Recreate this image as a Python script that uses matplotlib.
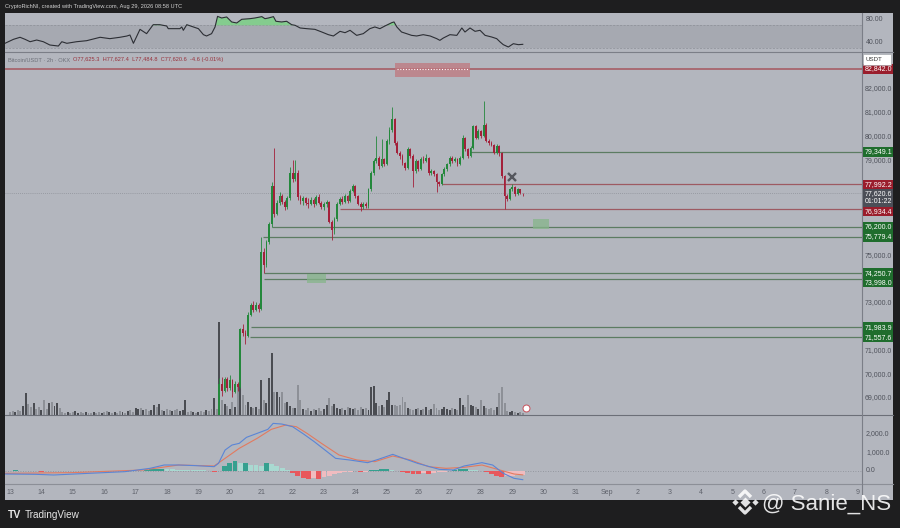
import matplotlib
matplotlib.use("Agg")
import matplotlib.pyplot as plt
import matplotlib.transforms as mtransforms
from matplotlib.patches import Rectangle
from matplotlib.lines import Line2D
import numpy as np

plt.rcParams['font.family'] = ['Liberation Sans', 'DejaVu Sans']

# ======================= DATA =======================
# 2h candles, index 0 = Aug 13 00:00; prices below the panel before index 80
first_candle = 80
first_open = 66900.0
closes = [
    69600, 69300, 69800, 69400, 69750, 69250, 69600, 69450, 71888, 71750,
    71600, 72513, 72930, 72700, 72900, 72750, 75150, 74600, 75570, 76330,
    77930, 76750, 77200, 77500, 77250, 77050, 77400, 78480, 78200, 78450,
    77450, 77300, 77400, 77200, 77150, 77350, 77150, 77450, 77200, 77027,
    77150, 77236, 76400, 76055, 76541, 77166, 77375, 77250, 77500, 77300,
    77720, 77930, 77500, 77166, 77030, 77150, 77080, 77790, 78486, 78972,
    79110, 78760, 79040, 78830, 79805, 80291, 80736, 79736, 79319, 79180,
    78902, 78694, 79486, 79180, 78555, 78972, 78620, 79040, 78970, 79110,
    78486, 78550, 78416, 78069, 78000, 78416, 78625, 78833, 79110, 78972,
    79040, 78833, 79110, 79944, 79458, 79180, 79527, 80430, 79944, 80220,
    80013, 80500, 79805, 79736, 79660, 79319, 79600, 79290, 78347, 77514,
    77375, 77791, 77860, 77580, 77791, 77625.3, 77620.6]
highs = [
    69850, 69900, 69900, 69880, 69950, 69800, 69700, 69680, 71950, 72100,
    71850, 72600, 73000, 73070, 73050, 73000, 75779, 75300, 75650, 76400,
    78100, 79500, 77350, 77650, 77600, 77350, 77500, 78700, 79000, 79013,
    78600, 77550, 77500, 77450, 77400, 77450, 77400, 77550, 77600, 77300,
    77250, 77350, 77300, 76500, 76600, 77250, 77450, 77500, 77600, 77550,
    77800, 78000, 77950, 77550, 77250, 77250, 77250, 77850, 78550, 79050,
    80013, 79200, 79900, 79100, 79900, 80400, 81263, 80800, 79800, 79400,
    79250, 78950, 79550, 79520, 79250, 79050, 79000, 79150, 79200, 79250,
    79150, 78650, 78600, 78450, 78150, 78480, 78700, 78900, 79200, 79180,
    79120, 79080, 79180, 80050, 79990, 79500, 79600, 80500, 80480, 80300,
    80280, 81513, 80550, 79900, 79800, 79700, 79680, 79650, 79349, 78400,
    77600, 77850, 77992, 77900, 77850, 77800, 77627.4]
lows = [
    66800, 69100, 69250, 69300, 69350, 69040, 69200, 69300, 69400, 71600,
    71263, 71557, 72450, 72600, 72650, 72600, 72700, 74250, 74500, 75500,
    76200, 76600, 76700, 77100, 77150, 76900, 76950, 77350, 78100, 78150,
    77350, 77150, 77100, 77100, 77000, 77100, 77050, 77100, 77150, 76950,
    76900, 77050, 76350, 75638, 75900, 76450, 77100, 77150, 77200, 77200,
    77250, 77650, 77400, 77100, 76850, 76950, 76980, 77000, 77700, 78400,
    78900, 78650, 78700, 78750, 78800, 79700, 80200, 79650, 79250, 79050,
    78800, 78600, 78650, 79100, 77888, 78450, 78550, 78580, 78900, 78920,
    78400, 78400, 78350, 77652, 77900, 77950, 78350, 78550, 78780, 78900,
    78920, 78780, 78800, 79050, 79400, 79100, 79150, 79480, 79880, 79900,
    79950, 79980, 79750, 79650, 79600, 79250, 79280, 79200, 78250, 76934,
    77300, 77350, 77700, 77500, 77550, 77600, 77484.8]

# volume of every 2h candle from Aug 13 00:00
volumes = [
    30, 40, 30, 50, 40,
    90, 220, 110, 80, 120, 60, 80, 50, 150, 60, 120, 130, 90, 120, 70,
    30, 20, 30, 20, 30, 40, 20, 30, 20, 30, 20, 20, 30, 20, 30, 20, 30, 40, 30, 20, 30, 20, 40, 30, 20,
    40, 50, 30,
    70, 60, 70, 50, 60,
    40, 50,
    100, 80, 110,
    50, 40, 60, 50, 40, 50, 60, 40, 50,
    150,
    30, 40, 30, 20, 30, 40, 30, 50, 40, 60,
    170, 60,
    930, 150, 110, 90, 60, 130, 80, 280, 280, 200,
    100, 130, 80, 70, 80, 60, 350, 150, 120, 370,
    620, 230, 230, 180, 230, 120, 130, 90, 70, 70,
    300, 150, 60, 50, 70, 40, 60, 50, 70, 40,
    60, 100, 170, 90, 110, 70, 60, 70, 50, 80,
    70, 60, 70, 50, 80, 60, 70, 50, 280, 290,
    120, 90, 100, 80, 150, 230, 100, 100, 90, 100,
    180, 130, 70, 60, 50, 60, 70, 50, 60, 80,
    50, 60, 110, 70, 50, 60, 80, 60, 50, 70,
    60, 50, 170, 100, 80, 200, 100, 90, 80, 60,
    150, 90, 70, 60, 70, 50, 80, 220, 280, 120,
    40, 30, 40, 30, 20, 30, 20]
# up (u) / down (d) shade of the volume bars before the first drawn candle
vol_dir_early = ("ddudd" + "uudduddudduduud" + "ddudduudduddudduddududdud" + "udd"
                 + "uudud" + "du" + "udu" + "duddudduu" + "u" + "ddududdudd" + "ud")

# RSI (day of month, value)
rsi_days = [12.84, 13.11, 13.32, 13.48, 13.64, 13.85, 14.06, 14.27, 14.54, 14.65,
            14.81, 15.12, 15.44, 15.87, 16.18, 16.50, 16.72, 16.82, 16.93, 17.03,
            17.14, 17.35, 17.56, 17.77, 17.99, 18.04, 18.41, 18.47, 18.52, 18.63,
            18.84, 19.00, 19.16, 19.26, 19.42, 19.53, 19.61, 19.74, 19.90, 20.06,
            20.22, 20.38, 20.64, 20.80, 21.02, 21.12, 21.23, 21.39, 21.47, 21.65,
            21.81, 21.97, 22.08, 22.24, 22.45, 22.71, 22.93, 23.14, 23.30, 23.51,
            23.67, 23.83, 24.04, 24.25, 24.46, 24.62, 24.78, 24.94, 25.16, 25.23,
            25.32, 25.47, 25.63, 25.79, 25.95, 26.16, 26.38, 26.59, 26.69, 26.80,
            27.01, 27.23, 27.39, 27.49, 27.65, 27.81, 27.97, 28.13, 28.34, 28.50,
            28.61, 28.71, 28.87, 29.03, 29.19, 29.33]
rsi_vals = [38.3, 45.3, 48.9, 45.3, 41.1, 44.1, 41.1, 35.3, 33.5, 41.1,
            38.3, 41.1, 42.9, 48.9, 46.5, 48.9, 51.1, 52.9, 38.3, 49.9,
            62.9, 55.3, 71.1, 71.1, 68.8, 64.1, 64.1, 67.1, 61.2, 71.1,
            67.1, 64.1, 53.5, 51.2, 55.3, 67.1, 85.8, 82.9, 84.7, 75.9,
            74.1, 80.6, 81.7, 82.9, 85.3, 81.7, 82.9, 85.3, 77.1, 75.9,
            77.1, 71.1, 70.0, 65.3, 64.1, 62.9, 58.2, 53.5, 51.2, 59.4,
            57.0, 61.2, 52.3, 55.3, 64.1, 67.1, 64.1, 68.8, 74.7, 75.9,
            67.1, 58.2, 55.3, 52.3, 51.2, 53.5, 51.2, 46.5, 43.5, 47.6,
            53.5, 52.3, 65.3, 58.2, 65.3, 59.4, 61.2, 52.3, 49.4, 46.5,
            40.6, 35.9, 31.8, 37.6, 35.9, 36.5]

# MACD line and signal line (day of month, value)
macd_days = [12.85, 13.82, 14.39, 15.52, 16.66, 17.46, 17.91, 18.37, 18.94, 19.50,
             19.64, 19.85, 20.07, 20.30, 20.53, 20.87, 21.21, 21.38, 21.66, 22.00,
             22.35, 22.69, 23.03, 23.37, 23.82, 24.39, 24.73, 25.19, 25.53, 25.98,
             26.67, 27.12, 27.46, 28.03, 28.37, 28.71, 29.05, 29.33]
macd_vals = [-162, -180, -216, -126, -36, 144, 324, 324, 288, 234,
             414, 1134, 1404, 1494, 1818, 2034, 2250, 2574, 2538, 2394,
             1998, 1584, 1134, 684, 594, 450, 630, 900, 684, 414,
             90, 54, 270, 450, 324, -126, -396, -470]
signal_days = [12.85, 14.96, 17.23, 18.37, 19.50, 19.85, 20.30, 20.87, 21.32, 21.78,
               22.12, 22.46, 22.92, 23.48, 24.05, 24.62, 25.19, 25.76, 26.33, 26.89,
               27.46, 28.03, 28.60, 29.05, 29.33]
signal_vals = [-126, -90, 54, 324, 270, 684, 1224, 1764, 2250, 2484,
               2394, 2034, 1494, 864, 594, 504, 810, 594, 234, 144,
               198, 324, 54, -162, -210]
# MACD histogram, 4h steps from Aug 13 00:00
hist_vals = [20, 30, 25, 10, -10, -20, -30, -25, -15, 10,
             15, 20, 10, -5, -10, -15, -10, 5, 10, 15,
             20, 10, 5, -5, 10, 20, 60, 90, 110, 120,
             100, 90, 80, 70, 60, 50, 40, 30, 20, -40,
             -20, 250, 450, 520, 420, 450, 350, 300, 250, 420,
             380, 250, 150, 50, -100, -250, -380, -430, -400, -420,
             -330, -250, -180, -120, -80, -50, -20, -80, -30, 50,
             80, 100, 120, 60, 20, -60, -100, -140, -150, -120,
             -150, -100, -60, -30, 10, 40, 90, 110, 70, 30,
             -20, -50, -150, -250, -300, -280, -250, -220, -200]

# horizontal levels drawn on the chart: price, colour kind, starting day
level_prices = [82842.0, 79349.1, 77992.2, 76934.4, 76200.0, 75779.4, 74250.7, 73998.0, 71983.9, 71557.6]
level_kind = ['r', 'g', 'r', 'r', 'g', 'g', 'g', 'g', 'g', 'g']
level_from = [12.84, 27.65, 26.76, 23.51, 21.34, 21.06, 21.09, 21.09, 20.68, 20.64]
# zones: day0, day1, price0, price1, kind
zones = [(25.26, 27.65, 82517, 83094, 'r'),
         (29.66, 30.17, 76110, 76530, 'g'),
         (22.46, 23.06, 73838, 74217, 'g')]
cross_point = (28.99, 78300)
countdown = "01:01:22"

price_ticks = [69000, 70000, 71000, 72000, 73000, 74000, 75000, 76000, 77000,
               78000, 79000, 80000, 81000, 82000]
rsi_ticks = [80, 40]
macd_ticks = [2000, 1000, 0]
tick_days = list(range(13, 41))
tick_labels = [str(d) for d in range(13, 32)] + ['Sep'] + [str(d) for d in range(2, 10)]

header = "CryptoRichNI, created with TradingView.com, Aug 29, 2026 08:58 UTC"
legend_name = "Bitcoin/USDT · 2h · OKX"
legend_vals = "O77,625.3  H77,627.4  L77,484.8  C77,620.6  -4.6 (-0.01%)"

# ======================= LAYOUT / STYLE =======================
W, H = 900, 528
fig = plt.figure(figsize=(W / 100, H / 100), dpi=100)
fig.patch.set_facecolor('#1e1e1f')

BG = '#b3b6be'
GREEN = '#24883c'
RED = '#a3203a'
LAB_G = '#1f6d2d'
LAB_R = '#9a1d2c'
LAB_GRAY = '#4b4e57'
TICK_C = '#4f525b'

PX_DAY = 31.4          # pixels per day
X_AT13 = 10            # pixel x of Aug 13
XL, XR = 5, 862
XMIN = 13 - (X_AT13 - XL) / PX_DAY
XMAX = 13 + (XR - X_AT13) / PX_DAY


def rect_px(x0, y0, x1, y1):
    return [x0 / W, 1 - y1 / H, (x1 - x0) / W, (y1 - y0) / H]


def add_px_rect(x0, y0, x1, y1, **kw):
    fig.add_artist(Rectangle((x0 / W, 1 - y1 / H), (x1 - x0) / W, (y1 - y0) / H,
                             transform=fig.transFigure, **kw))


def px_line(x0, y0, x1, y1, **kw):
    fig.add_artist(Line2D([x0 / W, x1 / W], [1 - y0 / H, 1 - y1 / H],
                          transform=fig.transFigure, **kw))


def px_text(x, y, s, **kw):
    return fig.text(x / W, 1 - y / H, s, **kw)


add_px_rect(5, 13, 893, 500, facecolor=BG, edgecolor='none', zorder=-5)

ax_rsi = fig.add_axes(rect_px(XL, 13, XR, 52.5))
ax_vol = fig.add_axes(rect_px(XL, 52.5, XR, 415))
ax = fig.add_axes(rect_px(XL, 52.5, XR, 415))
ax_macd = fig.add_axes(rect_px(XL, 415, XR, 483))
for a in (ax_rsi, ax_vol, ax, ax_macd):
    a.set_facecolor('none')
    a.set_axis_off()
    a.set_xlim(XMIN, XMAX)

# ---------- RSI ----------
ax_rsi.set_ylim(22.1, 91.7)
ax_rsi.axhspan(30, 70, color='#a6a9b1', lw=0, zorder=0)
for lv in (30, 70):
    ax_rsi.axhline(lv, color='#8b8e96', lw=0.5, ls=(0, (3, 2)), zorder=1)
rd = np.array(rsi_days)
rv = np.array(rsi_vals)
ax_rsi.fill_between(rd, 70, rv, where=rv > 70, interpolate=True, color='#84cc8e', lw=0, zorder=2)
ax_rsi.plot(rd, rv, color='#2c2e34', lw=0.8, zorder=3)

# ---------- volume ----------
vol = np.array(volumes, dtype=float)
vdays = 13 + np.arange(len(vol)) / 12
ax_vol.set_ylim(0, 3620)

# ---------- candles ----------
c = np.array(closes, dtype=float)
hi = np.array(highs, dtype=float)
lo = np.array(lows, dtype=float)
o = np.r_[first_open, c[:-1]]
hi = np.maximum(hi, np.maximum(o, c))
lo = np.minimum(lo, np.minimum(o, c))
cdays = 13 + (first_candle + np.arange(len(c))) / 12
up = c >= o

vol_up = np.array([ch == 'u' for ch in vol_dir_early] + list(up))[:len(vol)]
vcol = np.where(vol_up, '#4a4c52', '#8d9097')
ax_vol.bar(vdays, vol, width=0.062, color=vcol, lw=0, zorder=1)
ax_vol.plot(29.42, 70, marker='o', ms=5, mfc='white', mec='#c8505a', mew=0.7, zorder=3)

ax.set_ylim(68285, 83536)
ccol = np.where(up, GREEN, RED)

# levels
for p, kind, d0 in zip(level_prices, level_kind, level_from):
    if p == level_prices[0]:
        ax.hlines(p, d0, XMAX, colors='#a86a72', lw=1.4, zorder=2)
    else:
        ax.hlines(p, d0, XMAX, colors='#5c7c62' if kind == 'g' else '#9d5a62', lw=0.9, zorder=2)
# zones
for d0, d1, p0, p1, kind in zones:
    fc = '#c0787f' if kind == 'r' else '#86b58a'
    ax.add_patch(Rectangle((d0, p0), d1 - d0, p1 - p0, facecolor=fc, alpha=0.75,
                           edgecolor='none', zorder=2.5))
    if kind == 'r':
        ax.hlines(level_prices[0], d0 + 0.05, d1 - 0.05, colors='white', lw=0.8,
                  ls=(0, (1, 1.5)), zorder=2.6)

# last price line
ax.axhline(c[-1], color='#8e9199', lw=0.6, ls=(0, (1, 1.5)), zorder=1)

ax.vlines(cdays, lo, hi, colors=ccol, lw=0.6, zorder=3)
body = np.maximum(np.abs(c - o), 25)
ax.bar(cdays, body, bottom=np.minimum(o, c), width=0.058, color=ccol, lw=0, zorder=4)
ax.plot(*cross_point, marker='x', ms=6, mew=1.7, color='#55575e', zorder=5)

# ---------- MACD ----------
ax_macd.set_ylim(-649, 3027)
ax_macd.axhline(0, color='#8a8d95', lw=0.6, ls=(0, (1, 2)), zorder=0)
hv = np.array(hist_vals, dtype=float)
hdays = 13 + np.arange(len(hv)) / 6
prev = np.r_[hv[0], hv[:-1]]
hcol = np.where(hv >= 0, np.where(hv >= prev, '#35a08f', '#a9d9d1'),
                np.where(hv <= prev, '#e8585d', '#f0bcc0'))
ax_macd.bar(hdays, hv, width=0.155, color=hcol, lw=0, zorder=1)
ax_macd.plot(signal_days, signal_vals, color='#e27a5f', lw=0.8, zorder=2)
ax_macd.plot(macd_days, macd_vals, color='#5a85d6', lw=0.8, zorder=3)

# ---------- separators ----------
px_line(5, 52.5, 893, 52.5, color='#7b7e87', lw=0.8)
px_line(5, 415, 893, 415, color='#6c6f78', lw=0.8)
px_line(5, 483.5, 893, 483.5, color='#8c8f97', lw=0.8)
px_line(862, 13, 862, 500, color='#7b7e87', lw=0.8)

# ---------- right price axis ----------
def price_px(p):
    return H - ax.transData.transform((XMIN, p))[1]

labels = []
for p, kind in zip(level_prices, level_kind):
    labels.append([price_px(p), f"{p:,.1f}", LAB_G if kind == 'g' else LAB_R, 1])
labels.append([price_px(c[-1]), f"{c[-1]:,.1f}", LAB_GRAY, 2])
labels.sort(key=lambda t: t[0])
HALF = 4.75
prev_bottom = -1e9
for lab in labels:
    top = lab[0] - HALF
    if top < prev_bottom:
        lab[0] += prev_bottom - top
    bottom = lab[0] + HALF + (8.2 if lab[3] == 2 else 0)
    prev_bottom = bottom

for y, txt, fc, nl in labels:
    bottom = y + HALF + (8.2 if nl == 2 else 0)
    add_px_rect(862.5, y - HALF, 892.5, bottom, facecolor=fc, edgecolor='none', zorder=5)
    px_text(865, y, txt, fontsize=5, color='white', va='center', ha='left', zorder=6)
    if nl == 2:
        px_text(865, y + 8.2, countdown, fontsize=5, color='white', va='center', ha='left', zorder=6)

label_ys = [lab[0] for lab in labels]
for p in price_ticks:
    y = price_px(p)
    if min(abs(y - ly) for ly in label_ys) > 7:
        px_text(865, y, f"{p:,.1f}", fontsize=5, color=TICK_C, va='center', ha='left')

# USDT box
add_px_rect(863, 54, 891, 64.5, facecolor='white', edgecolor='#9a9da4', lw=0.4, zorder=5)
px_text(866, 59.3, "USDT", fontsize=4.4, color='#333333', va='center', ha='left', zorder=6)

tr_rsi = mtransforms.blended_transform_factory(fig.transFigure, ax_rsi.transData)
for v in rsi_ticks:
    ax_rsi.text(866 / W, v, f"{v:.2f}", transform=tr_rsi, fontsize=5, color=TICK_C,
                va='center', ha='left', clip_on=False)
tr_macd = mtransforms.blended_transform_factory(fig.transFigure, ax_macd.transData)
for v in macd_ticks:
    ax_macd.text(866 / W, v, f"{v:,.1f}", transform=tr_macd, fontsize=5, color=TICK_C,
                 va='center', ha='left', clip_on=False)

# ---------- time axis ----------
tr_x = mtransforms.blended_transform_factory(ax_macd.transData, fig.transFigure)
for d, lab in zip(tick_days, tick_labels):
    ax_macd.text(d, 1 - 492.5 / H, lab, transform=tr_x, ha='center', va='center',
                 fontsize=5, color='#5f626b', clip_on=False)

# ---------- header / legend ----------
px_text(5, 6.5, header, fontsize=4.1, color='#d2d2d2', va='center', ha='left')
renderer = fig.canvas.get_renderer()
t1 = px_text(8, 60, legend_name, fontsize=4.1, color='#6c6f78', va='center', ha='left')
bb = t1.get_window_extent(renderer)
px_text(bb.x1 + 3, 60, legend_vals, fontsize=4.1, color='#98303a', va='center', ha='left')

# ---------- TradingView logo ----------
t2 = px_text(8, 514.5, "TV", fontsize=7.5, color='#e6e6e6', weight='bold', va='center', ha='left')
bb2 = t2.get_window_extent(renderer)
px_text(bb2.x1 + 3, 514.5, "TradingView", fontsize=7.2, color='#e6e6e6', va='center', ha='left')

# ---------- watermark ----------
wm = dict(color='white', alpha=0.88, transform=fig.transFigure, zorder=20)
cx, cy = 745, 502
fig.add_artist(Line2D([cx / W], [1 - cy / H], marker='D', ms=5, mfc='white', mec='none',
                      ls='none', **wm))
for dx in (-10, 10):
    fig.add_artist(Line2D([(cx + dx) / W], [1 - cy / H], marker='D', ms=3.2, mfc='white',
                          mec='none', ls='none', **wm))
for sgn in (-1, 1):
    xs = [(cx - 6) / W, cx / W, (cx + 6) / W]
    ys = [1 - (cy + sgn * 5) / H, 1 - (cy + sgn * 11) / H, 1 - (cy + sgn * 5) / H]
    fig.add_artist(Line2D(xs, ys, lw=2.4, solid_capstyle='butt', **wm))
px_text(762, 510, "@ Sanie_NS", fontsize=16, color='white', alpha=0.88, va='baseline',
        ha='left', zorder=20)

fig.savefig("out.png", dpi=100, facecolor=fig.get_facecolor())
